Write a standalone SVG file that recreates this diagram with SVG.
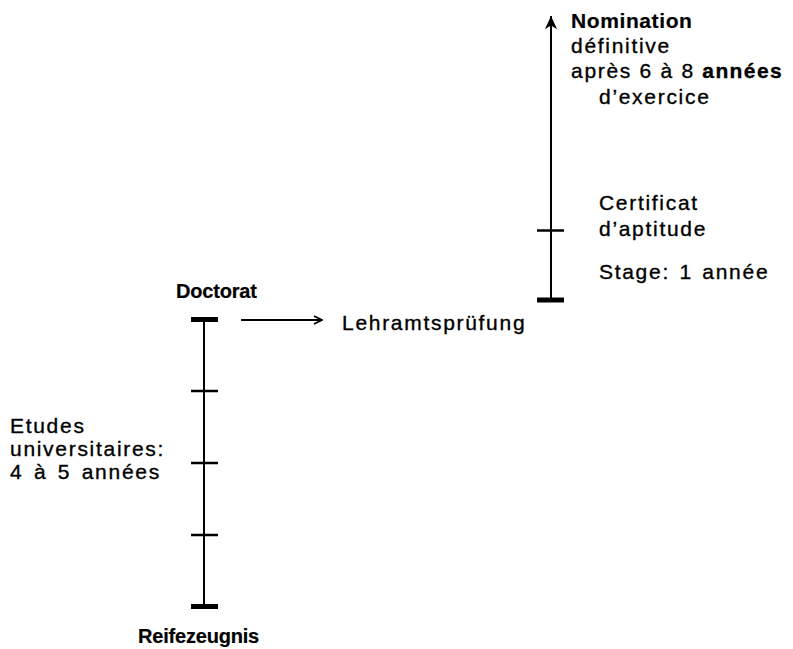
<svg xmlns="http://www.w3.org/2000/svg" width="793" height="649" viewBox="0 0 793 649">
<style>
  text { font-family: "Liberation Sans", Arial, sans-serif; font-size: 21px; letter-spacing: 1.7px; fill: #000; stroke: #000; stroke-width: 0.35px; }
  .b { font-weight: bold; }
  .lb { font-weight: bold; font-size: 20px; letter-spacing: -0.2px; stroke-width: 0.2px; }
  .nb { font-weight: bold; letter-spacing: 0.6px; stroke-width: 0.2px; }
  .axis { stroke: #000; stroke-width: 2; fill: none; }
  .bar { stroke: #000; stroke-width: 5; }
  .tick { stroke: #000; stroke-width: 2.5; }
</style>
<defs>
  <marker id="open" viewBox="0 0 10 10" refX="9" refY="5" markerWidth="10" markerHeight="10" markerUnits="userSpaceOnUse" orient="auto">
    <path d="M1,1 L9,5 L1,9" fill="none" stroke="#000" stroke-width="1.8"/>
  </marker>
  <marker id="solid" viewBox="0 0 16 16" refX="15" refY="8" markerWidth="15" markerHeight="15" markerUnits="userSpaceOnUse" orient="auto">
    <path d="M15,8 L1,1.5 L5,8 L1,14.5 Z" fill="#000"/>
  </marker>
</defs>
<rect width="793" height="649" fill="#fff"/>
<g id="connectors">
  <line class="axis" x1="204" y1="319" x2="204" y2="607"/>
  <line class="axis" x1="551" y1="300" x2="551" y2="16" marker-end="url(#solid)"/>
  <line class="axis" x1="241" y1="320" x2="322" y2="320" stroke-width="1.8" marker-end="url(#open)"/>
</g>
<g id="doctorat">
  <line class="bar" x1="191" y1="319.5" x2="218" y2="319.5"/>
  <text class="lb" x="176" y="298">Doctorat</text>
</g>
<g id="etudes">
  <line class="tick" x1="191" y1="391" x2="218" y2="391"/>
  <line class="tick" x1="191" y1="463" x2="218" y2="463"/>
  <line class="tick" x1="191" y1="535" x2="218" y2="535"/>
  <text x="10" y="433">Etudes</text>
  <text x="10" y="456">universitaires:</text>
  <text x="10" y="479" word-spacing="3">4 à 5 années</text>
</g>
<g id="reifezeugnis">
  <line class="bar" x1="191" y1="606.5" x2="218" y2="606.5"/>
  <text class="lb" x="138" y="643">Reifezeugnis</text>
</g>
<g id="lehramtspruefung">
  <text x="342" y="330">Lehramtsprüfung</text>
</g>
<g id="stage">
  <line class="bar" x1="537" y1="300" x2="564" y2="300"/>
  <text x="599" y="279" word-spacing="2">Stage: 1 année</text>
</g>
<g id="certificat">
  <line class="tick" x1="537" y1="230.5" x2="564" y2="230.5"/>
  <text x="599" y="210">Certificat</text>
  <text x="599" y="236">d’aptitude</text>
</g>
<g id="nomination">
  <text class="nb" x="571" y="28">Nomination</text>
  <text x="571" y="53">définitive</text>
  <text x="571" y="78">après 6 à 8 <tspan class="b" letter-spacing="1.4">années</tspan></text>
  <text x="599" y="104">d’exercice</text>
</g>
</svg>
